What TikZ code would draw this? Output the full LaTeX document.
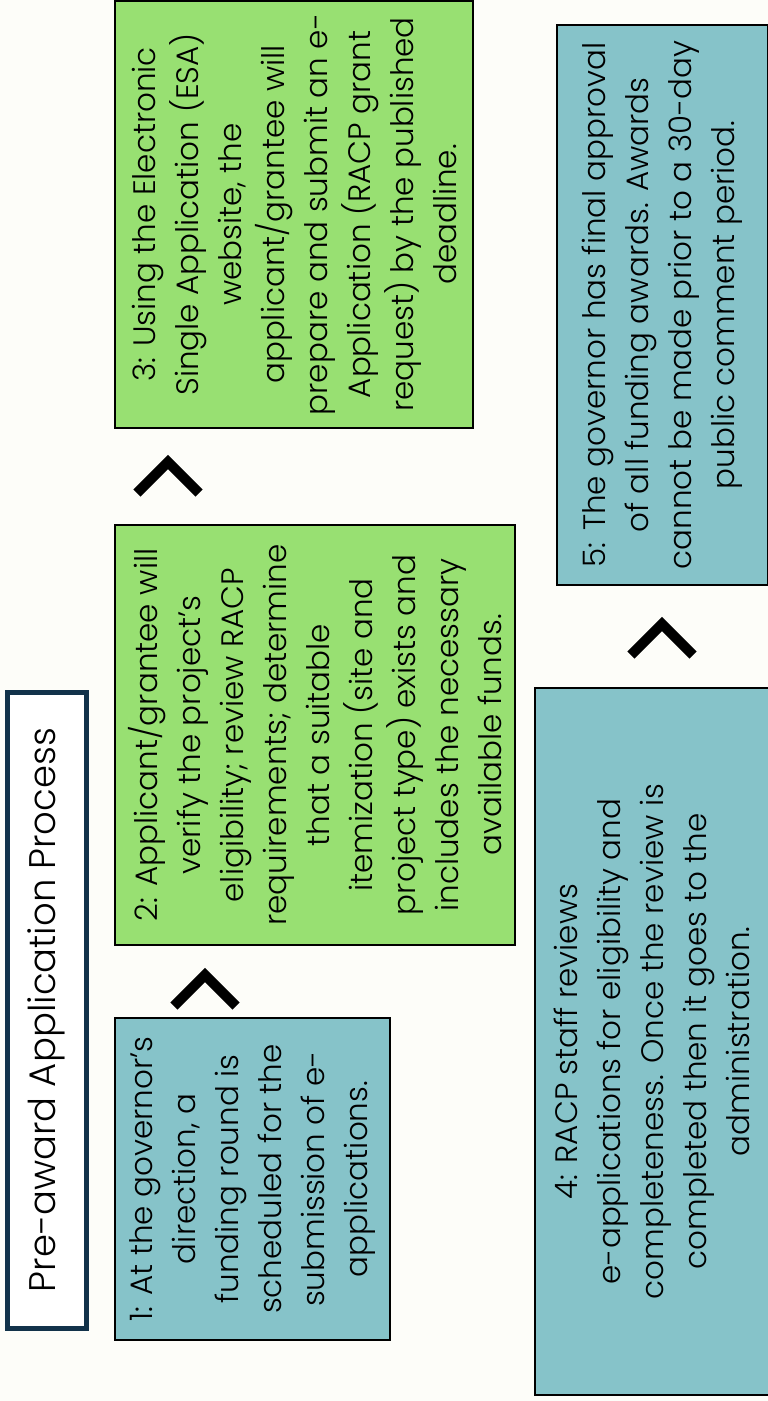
\documentclass[tikz,border=0pt]{standalone}
\usepackage{fontspec}
\setmainfont{Poppins}[UprightFont={* Light}]
\definecolor{fondo}{HTML}{FDFDF9}
\definecolor{azulado}{HTML}{86C3C9}
\definecolor{verde}{HTML}{98E072}
\definecolor{marino}{HTML}{12324A}
\tikzset{
	paso/.style = {draw = black, line width = 2.5pt, rotate = 90,
		inner sep = 0pt, align = center,
		font = \fontsize{31}{43}\selectfont},
	chevron/.style = {line width = 10pt, miter limit = 10},
}

\begin{document}
\begin{tikzpicture}[x = 1pt, y = -1pt]

	% márgenes del dibujo
	\fill[fondo] (0,0) rectangle (768,1401);
	\useasboundingbox (0,0) rectangle (768,1401);

	% título
	\node[draw = marino, fill = white, line width = 5pt, rotate = 90,
		minimum width = 636pt, minimum height = 79pt,
		font = \fontsize{37}{44}\selectfont] (titulo)
		at (46.5,1010) {Pre-award Application Process};

	% pasos del proceso
	\node[paso, fill = azulado, minimum width = 322pt, minimum height = 275pt]
		(paso1) at (252.5,1179) {%
		1: At the governor’s\\ direction, a\\ funding round is\\
		scheduled for the\\ submission of e-\\ applications.};

	\node[paso, fill = verde, minimum width = 420pt, minimum height = 400pt]
		(paso2) at (315,735) {%
		2: Applicant/grantee will\\ verify the project’s\\
		eligibility; review RACP\\ requirements; determine\\
		that a suitable\\ itemization (site and\\
		project type) exists and\\ includes the necessary\\
		available funds.};

	\node[paso, fill = verde, minimum width = 427pt, minimum height = 358pt]
		(paso3) at (294,214.5) {%
		3: Using the Electronic\\ Single Application (ESA)\\
		website, the\\ applicant/grantee will\\
		prepare and submit an e-\\ Application (RACP grant\\
		request) by the published\\ deadline.};

	\node[paso, fill = azulado, minimum width = 707pt, minimum height = 234pt]
		(paso4) at (652,1041.5) {%
		4: RACP staff reviews\\ e-applications for eligibility and\\
		completeness. Once the review is\\ completed then it goes to the\\
		administration.};

	\node[paso, fill = azulado, minimum width = 560pt, minimum height = 211pt]
		(paso5) at (662.5,305) {%
		5: The governor has final approval\\ of all funding awards. Awards\\
		cannot be made prior to a 30-day\\ public comment period.};

	% vértices de los chevrones
	\coordinate (V1) at (205,975);
	\coordinate (V2) at (168,462);
	\coordinate (V3) at (662,624);

	% chevrones
	\foreach \v in {V1,V2,V3}
		\draw[chevron] ([shift = {(-31,31)}]\v) -- (\v) -- ([shift = {(31,31)}]\v);

\end{tikzpicture}
\end{document}
